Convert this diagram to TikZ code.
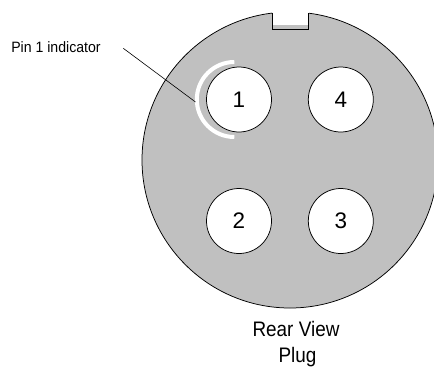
\documentclass[tikz,border=0pt]{standalone}
\usepackage{fontspec}
\setmainfont{Liberation Sans}
\definecolor{plug}{HTML}{C0C0C0}
\tikzset{
  pinhole/.style={circle,draw=black,fill=white,line width=0.75pt,minimum size=65pt,inner sep=0pt,font=\fontsize{22.5}{22.5}\selectfont},
  caption/.style={font=\fontsize{21}{21}\selectfont,inner sep=0pt,xscale=0.9,anchor=base},
}
\begin{document}
\begin{tikzpicture}[x=1pt,y=-1pt]
\useasboundingbox (0,0) rectangle (434,368);
\fill[white] (0,0) rectangle (434,368);
\begin{scope}
\clip (0,0) rectangle (434,368);
\filldraw[fill=plug,draw=black,line width=0.75pt] (290,160) circle[radius=148];
\end{scope}
\fill[white] (272,5) rectangle (308.5,25);
\draw[black,line width=0.75pt] (272,12.5) -- (272,29.5) -- (308.5,29.5) -- (308.5,12.5);
\draw[white,line width=4pt] (234.3,62) arc[start angle=-90,end angle=-270,radius=37.5];
\node[pinhole] (p1) at (239,99.5) {1};
\node[pinhole] (p4) at (340.8,99.5) {4};
\node[pinhole] (p2) at (239,221) {2};
\node[pinhole] (p3) at (340.8,221) {3};
\coordinate (lead) at (123.3,48.3);
\coordinate (tip) at (195.5,102);
\draw[black,line width=0.6pt] (lead) -- (tip);
\node[font=\fontsize{15}{15}\selectfont,inner sep=0pt,xscale=0.94] (lab) at (56,47) {Pin 1 indicator};
\node[caption] (c1) at (296,336) {Rear View};
\node[caption] (c2) at (297.5,362.5) {Plug};
\end{tikzpicture}
\end{document}
